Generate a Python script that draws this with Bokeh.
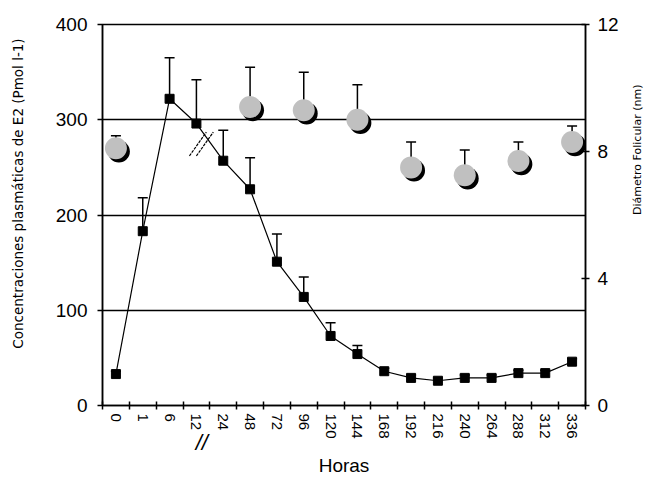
import math
from bokeh.plotting import figure
from bokeh.models import Range1d, LinearAxis, FixedTicker, ColumnDataSource
from bokeh.transform import dodge
from bokeh.embed import file_html
from bokeh.resources import INLINE

# ---- data ----
hours = ["0", "1", "6", "12", "24", "48", "72", "96", "120", "144",
         "168", "192", "216", "240", "264", "288", "312", "336"]
e2_mean = [33, 183, 322, 296, 257, 227, 151, 114, 73, 54,
           36, 29, 26, 29, 29, 34, 34, 46]
e2_err = [3, 35, 43, 46, 32, 33, 29, 21, 14, 9,
          3, 3, 3, 3, 3, 3, 3, 3]
fol_hours = ["0", "48", "96", "144", "192", "240", "288", "336"]
fol_mean = [8.1, 9.4, 9.3, 9.0, 7.5, 7.25, 7.7, 8.3]
fol_err = [0.4, 1.25, 1.2, 1.1, 0.8, 0.8, 0.6, 0.5]
left_ticks = [0, 100, 200, 300, 400]
right_ticks = [0, 4, 8, 12]

FONT = "Liberation Sans"
TFONT = "DejaVu Sans"
NB = "\u00a0"

pos = {h: i + 0.5 for i, h in enumerate(hours)}
e2_src = ColumnDataSource(dict(
    x=[pos[h] for h in hours], y=e2_mean,
    top=[m + e for m, e in zip(e2_mean, e2_err)]))
fol_src = ColumnDataSource(dict(
    x=[pos[h] for h in fol_hours], y=fol_mean,
    top=[m + e for m, e in zip(fol_mean, fol_err)]))

p = figure(width=653, height=478, x_range=Range1d(0, len(hours)),
           y_range=Range1d(0, 400), output_backend="svg",
           toolbar_location=None, min_border_left=102, min_border_right=63,
           min_border_top=24, min_border_bottom=73)
p.extra_y_ranges = {"diam": Range1d(0, 12)}
p.outline_line_color = "black"
p.outline_line_width = 1.5
p.background_fill_color = "white"
p.border_fill_color = "white"

# grid
p.xgrid.visible = False
p.ygrid.ticker = FixedTicker(ticks=left_ticks[1:-1])
p.ygrid.grid_line_color = "black"
p.ygrid.grid_line_width = 1.5

# x axis: labels at category centres, ticks at boundaries
xa = p.xaxis[0]
xa.ticker = FixedTicker(ticks=[pos[h] for h in hours],
                        minor_ticks=list(range(len(hours) + 1)))
xa.major_label_overrides = {pos[h]: h for h in hours}
xa.major_tick_in = 0
xa.major_tick_out = 0
xa.minor_tick_in = 4
xa.minor_tick_out = 4
xa.minor_tick_line_color = "black"
xa.minor_tick_line_width = 1.5
xa.major_label_orientation = "vertical"
xa.major_label_standoff = 4
xa.major_label_text_font = FONT
xa.major_label_text_font_size = "15px"
xa.major_label_text_color = "black"
xa.axis_line_width = 1.5

# second (invisible) bottom axis: axis-break mark and the "Horas" title
brk = pos["12"]
brk_x = brk + 0.2
xb = LinearAxis(ticker=FixedTicker(ticks=[brk_x], minor_ticks=[]))
xb.major_label_overrides = {brk_x: "//"}
xb.axis_line_color = None
xb.major_tick_line_color = None
xb.minor_tick_line_color = None
xb.major_tick_in = 0
xb.major_tick_out = 0
xb.major_label_standoff = -12
xb.major_label_text_font = FONT
xb.major_label_text_font_style = "italic"
xb.major_label_text_font_size = "22px"
xb.major_label_text_color = "black"
xb.axis_label = "Horas"
xb.axis_label_text_font = FONT
xb.axis_label_text_font_size = "19px"
xb.axis_label_text_font_style = "normal"
xb.axis_label_text_color = "black"
xb.axis_label_standoff = -3
p.add_layout(xb, "below")

ya = p.yaxis[0]
ya.ticker = FixedTicker(ticks=left_ticks)
ya.major_tick_in = 0
ya.major_tick_out = 5
ya.major_tick_line_width = 1.5
ya.minor_tick_line_color = None
ya.major_label_standoff = 10
ya.major_label_text_font = FONT
ya.major_label_text_font_size = "19px"
ya.major_label_text_color = "black"
ya.axis_label = NB * 11 + "Concentraciones plasmáticas de E2  (Pmol l-1)"
ya.axis_label_text_font = TFONT
ya.axis_label_text_font_size = "13.5px"
ya.axis_label_text_font_style = "normal"
ya.axis_label_text_color = "black"
ya.axis_label_standoff = 27
ya.axis_line_width = 1.5

right_title = "Diámetro Folicular  (nm)"
ra = LinearAxis(y_range_name="diam", ticker=FixedTicker(ticks=right_ticks))
ra.major_tick_in = 4
ra.major_tick_out = 4
ra.major_tick_line_width = 1.5
ra.minor_tick_line_color = None
ra.major_label_standoff = 8
ra.major_label_text_font = FONT
ra.major_label_text_font_size = "19px"
ra.major_label_text_color = "black"
if "axis_label_orientation" in ra.properties():
    # read bottom-to-top as in the reference; text starts at mid-height
    ra.axis_label_orientation = math.pi / 2
    ra.axis_label = right_title
else:
    ra.axis_label = right_title + NB * 30
ra.axis_label_text_font = TFONT
ra.axis_label_text_font_size = "11px"
ra.axis_label_text_font_style = "normal"
ra.axis_label_text_color = "black"
ra.axis_label_standoff = 16
ra.axis_line_width = 1.5
p.add_layout(ra, "right")

# axis-break marks next to the 12 h point inside the plot
for dx in (0.0, 0.26):
    p.segment(x0=brk - 0.26 + dx, y0=262, x1=brk + 0.37 + dx, y1=287,
              line_color="black", line_width=1.2, line_dash="3 1")

# E2 series: error bars, line, squares
p.segment(x0="x", y0="y", x1="x", y1="top", source=e2_src,
          line_color="black", line_width=1.5)
p.scatter(x="x", y="top", source=e2_src, marker="dash", size=10,
          line_color="black", line_width=1.5)
p.line(x="x", y="y", source=e2_src, line_color="black", line_width=1.2)
p.scatter(x="x", y="y", source=e2_src, marker="square", size=9,
          fill_color="black", line_color="black")

# follicle diameter: error bars, shadowed grey circles
p.segment(x0="x", y0="y", x1="x", y1="top", source=fol_src,
          y_range_name="diam", line_color="black", line_width=1.5)
p.scatter(x="x", y="top", source=fol_src, y_range_name="diam",
          marker="dash", size=10, line_color="black", line_width=1.5)
p.scatter(x=dodge("x", 0.11), y=dodge("y", -0.1), source=fol_src,
          y_range_name="diam", marker="circle", size=22,
          fill_color="black", line_color=None)
p.scatter(x="x", y="y", source=fol_src, y_range_name="diam",
          marker="circle", size=22, fill_color="#c0c0c0", line_color=None)

open("out.html", "w").write(file_html(p, INLINE))
